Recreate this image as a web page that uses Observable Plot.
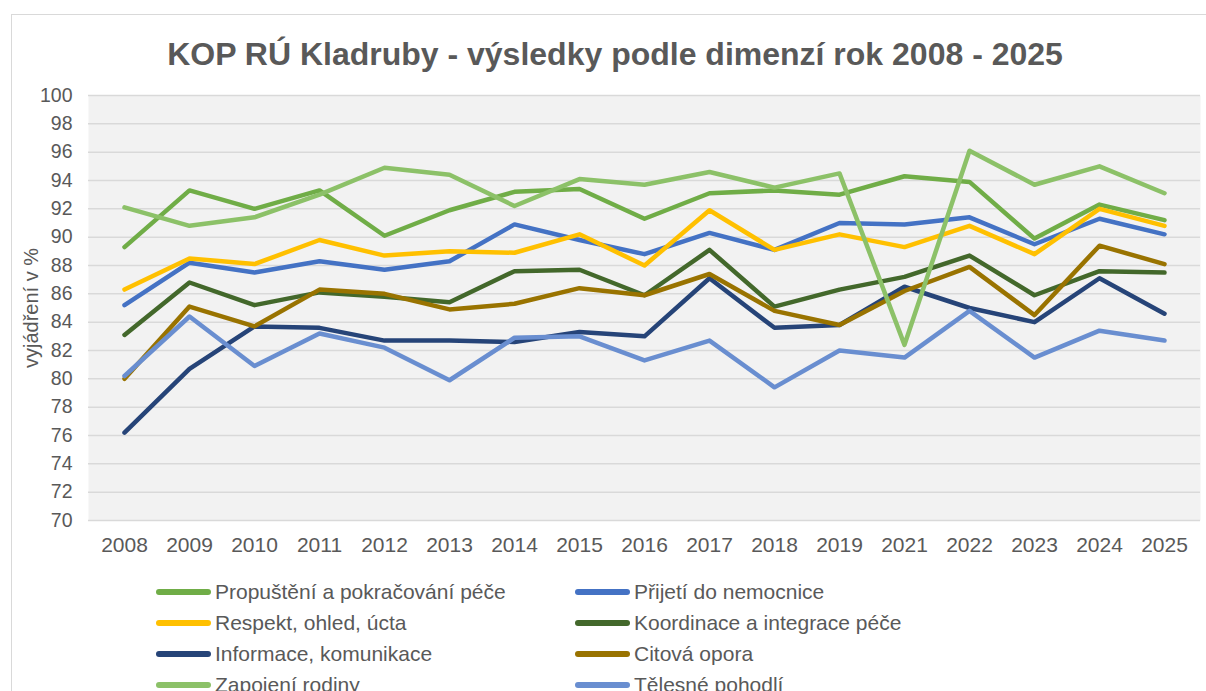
<!DOCTYPE html>
<html>
<head>
<meta charset="utf-8">
<script src="https://cdn.jsdelivr.net/npm/d3@7"></script>
<script src="https://cdn.jsdelivr.net/npm/@observablehq/plot@0.6"></script>
<style>
  html, body { margin: 0; padding: 0; background: #fff; overflow: hidden; }
  body { width: 1206px; height: 691px; position: relative; font-family: "Liberation Sans", Arial, sans-serif; color: #595959; }
  #frame { position: absolute; left: 11px; top: 14px; width: 1300px; height: 800px; border: 1px solid #D9D9D9; box-sizing: border-box; }
  #title { position: absolute; left: 0; width: 1230px; top: 38px; text-align: center; font-size: 32px; line-height: 32px; font-weight: bold; color: #595959; white-space: nowrap; }
  #chart { position: absolute; left: 0; top: 0; }
  .leg { position: absolute; display: flex; align-items: center; font-size: 21px; line-height: 1; white-space: nowrap; color: #595959; }
  .sw { width: 55px; height: 6px; border-radius: 3px; margin-right: 4px; }
</style>
</head>
<body>
<div id="frame"></div>
<div id="title">KOP RÚ Kladruby - výsledky podle dimenzí rok 2008 - 2025</div>
<div id="chart"></div>
<div id="legend"></div>
<script>
const years = ["2008","2009","2010","2011","2012","2013","2014","2015","2016","2017","2018","2019","2021","2022","2023","2024","2025"];
const yTicks = [70,72,74,76,78,80,82,84,86,88,90,92,94,96,98,100];

const seriesNames = [
  "Propuštění a pokračování péče",
  "Přijetí do nemocnice",
  "Respekt, ohled, úcta",
  "Koordinace a integrace péče",
  "Informace, komunikace",
  "Citová opora",
  "Zapojení rodiny",
  "Tělesné pohodlí"
];
const seriesColors = ["#70AD47","#4472C4","#FFC000","#43682B","#264478","#997300","#8CC168","#698ED0"];

const propusteni = [89.3, 93.3, 92.0, 93.3, 90.1, 91.9, 93.2, 93.4, 91.3, 93.1, 93.3, 93.0, 94.3, 93.9, 89.9, 92.3, 91.2];
const prijeti    = [85.2, 88.2, 87.5, 88.3, 87.7, 88.3, 90.9, 89.8, 88.8, 90.3, 89.1, 91.0, 90.9, 91.4, 89.5, 91.3, 90.2];
const respekt    = [86.3, 88.5, 88.1, 89.8, 88.7, 89.0, 88.9, 90.2, 88.0, 91.9, 89.1, 90.2, 89.3, 90.8, 88.8, 92.0, 90.8];
const koordinace = [83.1, 86.8, 85.2, 86.1, 85.8, 85.4, 87.6, 87.7, 85.9, 89.1, 85.1, 86.3, 87.2, 88.7, 85.9, 87.6, 87.5];
const informace  = [76.2, 80.7, 83.7, 83.6, 82.7, 82.7, 82.6, 83.3, 83.0, 87.1, 83.6, 83.8, 86.5, 85.0, 84.0, 87.1, 84.6];
const citova     = [80.0, 85.1, 83.7, 86.3, 86.0, 84.9, 85.3, 86.4, 85.9, 87.4, 84.8, 83.8, 86.2, 87.9, 84.5, 89.4, 88.1];
const zapojeni   = [92.1, 90.8, 91.4, 93.0, 94.9, 94.4, 92.2, 94.1, 93.7, 94.6, 93.5, 94.5, 82.4, 96.1, 93.7, 95.0, 93.1];
const telesne    = [80.2, 84.4, 80.9, 83.2, 82.2, 79.9, 82.9, 83.0, 81.3, 82.7, 79.4, 82.0, 81.5, 84.8, 81.5, 83.4, 82.7];

const seriesValues = [propusteni, prijeti, respekt, koordinace, informace, citova, zapojeni, telesne];

const tables = seriesValues.map((vals, i) => vals.map((v, j) => ({year: years[j], value: v, series: seriesNames[i]})));

const lineMarks = tables.map((t, i) => Plot.line(t, {
  x: "year", y: "value", stroke: seriesColors[i], strokeWidth: 4.5,
  strokeLinecap: "round", strokeLinejoin: "round"
}));

const chart = Plot.plot({
  width: 1206,
  height: 580,
  marginLeft: 88,
  marginRight: 6,
  marginTop: 95,
  marginBottom: 60,
  style: {fontFamily: "'Liberation Sans', Arial, sans-serif", color: "#595959", background: "transparent", overflow: "visible"},
  x: {type: "point", domain: years, padding: 0.5},
  y: {domain: [70, 100]},
  marks: [
    Plot.frame({fill: "#F2F2F2", stroke: null}),
    Plot.ruleY(yTicks, {stroke: "#D9D9D9", strokeWidth: 1.5}),
    ...lineMarks,
    Plot.axisX({tickSize: 0, tickPadding: 17, fontSize: 21, label: null}),
    Plot.axisY({ticks: yTicks, tickSize: 0, tickPadding: 16, fontSize: 19.5, label: null}),
    Plot.text(["vyjádření v %"], {frameAnchor: "left", textAnchor: "middle", dx: -57, rotate: -90, fontSize: 20, fill: "#595959"})
  ]
});
document.getElementById("chart").appendChild(chart);

const legend = document.getElementById("legend");
seriesNames.forEach((name, i) => {
  const col = i % 2, row = Math.floor(i / 2);
  const item = document.createElement("div");
  item.className = "leg";
  item.style.left = (col === 0 ? 156 : 575) + "px";
  item.style.top = (591.5 + row * 31 - 12) + "px";
  item.style.height = "24px";
  const sw = document.createElement("div");
  sw.className = "sw";
  sw.style.background = seriesColors[i];
  const tx = document.createElement("span");
  tx.textContent = name;
  item.appendChild(sw);
  item.appendChild(tx);
  legend.appendChild(item);
});
</script>
</body>
</html>
